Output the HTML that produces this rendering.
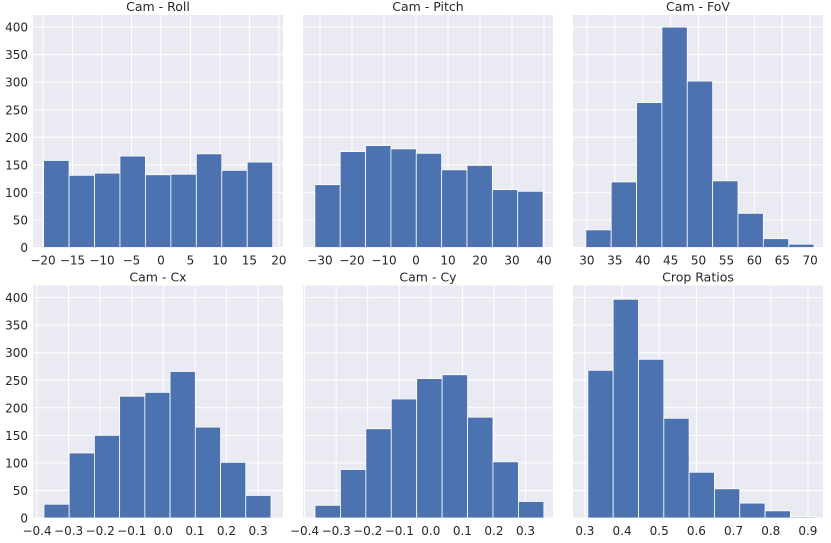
<!DOCTYPE html>
<html><head><meta charset="utf-8"><style>
body{margin:0;background:#fff;}
svg text{font-family:"DejaVu Sans","Liberation Sans",sans-serif;fill:#262626;}
</style></head><body>
<svg id="fig" width="831" height="538"></svg>
<script>
const titles=["Cam - Roll","Cam - Pitch","Cam - FoV","Cam - Cx","Cam - Cy","Crop Ratios"];
const rollCounts=[158,131,135,166,132,133,170,140,155];
const pitchCounts=[114,174,185,179,171,141,149,105,102];
const fovCounts=[32,119,263,400,302,121,62,16,6];
const cxCounts=[25,118,150,221,228,266,165,101,41];
const cyCounts=[23,88,162,216,253,260,183,102,30];
const cropCounts=[268,397,288,181,83,53,27,13,2];
const binStarts=[-19.9,-31.6,29.8,-0.378,-0.367,0.308];
const binEnds=[18.95,39.7,70.7,0.341,0.358,0.921];
const xMins=[-21.7,-35.3,27.5,-0.4127,-0.405,0.268];
const xMaxs=[20.7,42.8,72.3,0.379,0.387,0.9406];
const xTicks=[[-20,-15,-10,-5,0,5,10,15,20],[-30,-20,-10,0,10,20,30,40],[30,35,40,45,50,55,60,65,70],[-0.4,-0.3,-0.2,-0.1,0.0,0.1,0.2,0.3],[-0.4,-0.3,-0.2,-0.1,0.0,0.1,0.2,0.3],[0.3,0.4,0.5,0.6,0.7,0.8,0.9]];
const xTickLabels=[["−20","−15","−10","−5","0","5","10","15","20"],["−30","−20","−10","0","10","20","30","40"],["30","35","40","45","50","55","60","65","70"],["−0.4","−0.3","−0.2","−0.1","0.0","0.1","0.2","0.3"],["−0.4","−0.3","−0.2","−0.1","0.0","0.1","0.2","0.3"],["0.3","0.4","0.5","0.6","0.7","0.8","0.9"]];
const yTicks=[0,50,100,150,200,250,300,350,400];
const allCounts=[rollCounts,pitchCounts,fovCounts,cxCounts,cyCounts,cropCounts];
const yMax=422;
const NS="http://www.w3.org/2000/svg";
const svg=document.getElementById('fig');
function mk(t,a,p){const e=document.createElementNS(NS,t);for(const k in a)e.setAttribute(k,a[k]);p.appendChild(e);return e;}
const colX=[33,303,573],rowTop=[15,285.5],W=250,H=232.5;
for(let i=0;i<6;i++){
  const ax0=colX[i%3],ay0=rowTop[Math.floor(i/3)],ay1=ay0+H;
  const g=mk('g',{},svg);
  
  
  const xs=v=>ax0+(v-xMins[i])/(xMaxs[i]-xMins[i])*W;
  const ys=v=>ay1-v/yMax*H;
  mk('rect',{x:ax0,y:ay0,width:W,height:H,fill:'#eaeaf2'},g);
  yTicks.forEach(t=>{mk('line',{x1:ax0,x2:ax0+W,y1:ys(t),y2:ys(t),stroke:'#fff','stroke-width':1},g);
    if(i%3===0){const tx=mk('text',{x:ax0-5,y:ys(t)+4.5,'text-anchor':'end','font-size':12},g);tx.textContent=t;
      }});
  xTicks[i].forEach((t,j)=>{mk('line',{x1:xs(t),x2:xs(t),y1:ay0,y2:ay1,stroke:'#fff','stroke-width':1},g);
    const tx=mk('text',{x:xs(t),y:ay1+17,'text-anchor':'middle','font-size':12},g);tx.textContent=xTickLabels[i][j];
    });
  const c=allCounts[i],bw=(binEnds[i]-binStarts[i])/c.length;
  c.forEach((v,k)=>{const x0=xs(binStarts[i]+k*bw),x1=xs(binStarts[i]+(k+1)*bw);
    const r=mk('rect',{x:x0,y:ys(v),width:x1-x0,height:ys(0)-ys(v),fill:'#4c72b0',stroke:'#fff','stroke-width':0.8},g);
    });
  const tt=mk('text',{x:ax0+W/2,y:ay0-4,'text-anchor':'middle','font-size':12.5},g);tt.textContent=titles[i];
  
}
</script>
</body></html>
